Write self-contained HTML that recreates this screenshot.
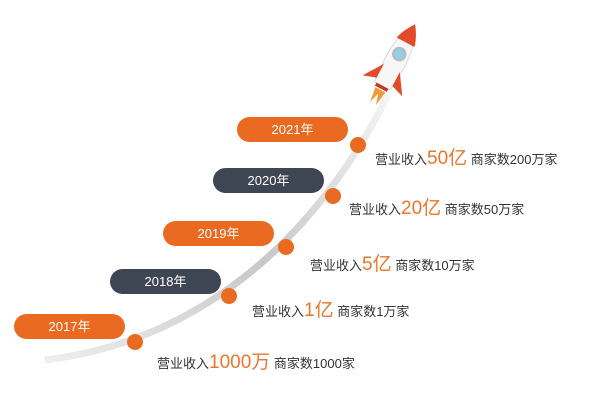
<!DOCTYPE html><html><head><meta charset="utf-8"><style>
body{margin:0;width:600px;height:409px;background:#fff;overflow:hidden;position:relative;font-family:"Liberation Sans","Noto Sans CJK SC",sans-serif}
.p{position:absolute;height:25px;width:111px;border-radius:13px;color:#fff;font-size:13px;line-height:25px;text-align:center}
.o{background:#ea6a22}.d{background:#3e4553}
.t{position:absolute;font-size:13px;color:#333;white-space:nowrap}
.t b{font-weight:normal;color:#e8772e;font-size:19px}
</style></head><body>
<svg width="600" height="409" style="position:absolute;left:0;top:0">
<defs><linearGradient id="g" x1="0" y1="1" x2="1" y2="0"><stop offset="0" stop-color="#eee"/><stop offset="0.5" stop-color="#c8c8c8"/><stop offset="1" stop-color="#f5f5f5"/></linearGradient></defs>
<path d="M45,360 C170,345 300,270 388,95" stroke="url(#g)" stroke-width="7" fill="none"/>
<g fill="#ea6a22">
<circle cx="135" cy="342" r="8"/><circle cx="229" cy="296" r="8"/><circle cx="286" cy="247" r="8"/><circle cx="333" cy="196" r="8"/><circle cx="358" cy="145" r="8"/></g>
<g transform="translate(394,64) rotate(28) scale(1.12)">
<path d="M0,-40 C10,-25 11,-5 8,22 L-8,22 C-11,-5 -10,-25 0,-40Z" fill="#f7f7f7" stroke="#ddd"/>
<path d="M0,-40 C6,-32 8,-26 9,-22 L-9,-22 C-8,-26 -6,-32 0,-40Z" fill="#e24a2a"/>
<circle cx="0" cy="-10" r="5.5" fill="#8fd0f0" stroke="#bbb" stroke-width="2"/>
<path d="M-8,4 L-20,22 L-8,18Z M8,4 L20,22 L8,18Z" fill="#e24a2a"/>
<rect x="-6" y="22" width="12" height="3" fill="#c03a20"/>
<path d="M-5,26 L-3,40 L0,30 L3,40 L5,26Z" fill="#f29a3a"/>
</g>
</svg>
<div class="p o" style="left:14px;top:314px">2017年</div>
<div class="p d" style="left:110px;top:269px">2018年</div>
<div class="p o" style="left:163px;top:221px">2019年</div>
<div class="p d" style="left:213px;top:168px">2020年</div>
<div class="p o" style="left:237px;top:117px">2021年</div>
<div class="t" style="left:157px;top:347px">营业收入<b>1000万</b> 商家数1000家</div>
<div class="t" style="left:252px;top:295px">营业收入<b>1亿</b> 商家数1万家</div>
<div class="t" style="left:310px;top:249px">营业收入<b>5亿</b> 商家数10万家</div>
<div class="t" style="left:349px;top:193px">营业收入<b>20亿</b> 商家数50万家</div>
<div class="t" style="left:375px;top:143px">营业收入<b>50亿</b> 商家数200万家</div>
</body></html>
